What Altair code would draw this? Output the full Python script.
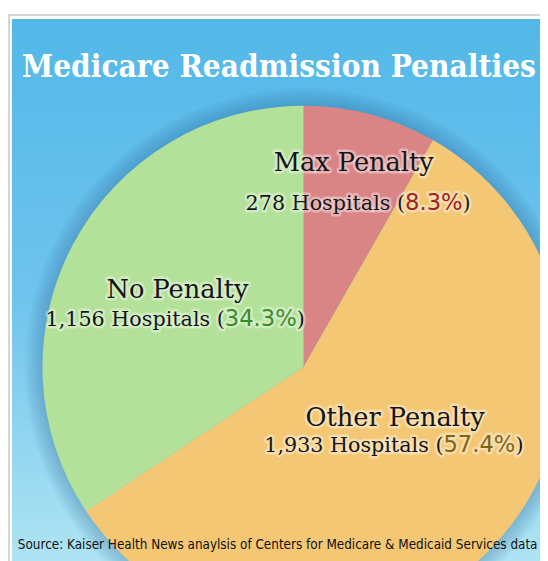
import altair as alt
import pandas as pd

# ---- data ----
categories = ["Max Penalty", "Other Penalty", "No Penalty"]
hospitals = [278, 1933, 1156]
percents = ["8.3%", "57.4%", "34.3%"]
slice_colors = ["#d98586", "#f4c774", "#b3e199"]
pct_colors = ["#9e2227", "#7f6316", "#3b8a2c"]
title_text = "Medicare Readmission Penalties"
source_text = "Source: Kaiser Health News anaylsis of Centers for Medicare & Medicaid Services data"

# ---- layout (pixels in chart space) ----
W, H = 540, 553
CX, CY, R = 300, 360, 265
# per slice: line1 centre x, line1 baseline, line2 pct start x, line2 baseline
line1_x = [351, 393, 172]
line1_y = [161, 420, 290]
pct_x = [403, 442, 220]
line2_y = [201, 447, 319]

SERIF = "DejaVu Serif"
SANS = "DejaVu Sans"

one = pd.DataFrame({"k": [0]})

bg = alt.Chart(one).mark_rect(
    fill=alt.LinearGradient(
        gradient="linear", x1=0, y1=0, x2=0, y2=1,
        stops=[alt.GradientStop(color="#52b8e8", offset=0),
               alt.GradientStop(color="#6fc4ed", offset=0.5),
               alt.GradientStop(color="#b2e6f3", offset=1)]),
).encode(x=alt.value(4), x2=alt.value(W + 20), y=alt.value(7), y2=alt.value(H + 20))

frame = alt.Chart(one).mark_rect(
    fillOpacity=0, stroke="#d6d6d6", strokeWidth=2
).encode(x=alt.value(1), x2=alt.value(W + 20), y=alt.value(3), y2=alt.value(H + 20))

layers = [bg, frame]

# soft shadow around the pie
for k in range(18, 0, -2):
    layers.append(
        alt.Chart(one).mark_arc(theta=0, theta2=6.2832, outerRadius=R + k,
                                color="#2a6aa3", opacity=0.04)
        .encode(x=alt.value(CX), y=alt.value(CY))
    )

df = pd.DataFrame({"category": categories, "hospitals": hospitals,
                   "idx": list(range(len(categories)))})
pie = alt.Chart(df).mark_arc(outerRadius=R).encode(
    theta=alt.Theta("hospitals:Q", stack=True),
    color=alt.Color("category:N", scale=alt.Scale(domain=categories, range=slice_colors), legend=None),
    order=alt.Order("idx:Q"),
    x=alt.value(CX), y=alt.value(CY),
)
layers.append(pie)


def txt(text, x, y, size, color="#151515", align="center", font=SERIF, glow=True, weight="normal"):
    out = []
    d = pd.DataFrame({"t": [text]})
    if glow:
        out.append(alt.Chart(d).mark_text(
            align=align, baseline="alphabetic", font=font, fontSize=size, fontWeight=weight,
            fill="#ffffff", stroke="#ffffff", strokeWidth=5, strokeOpacity=0.4, strokeJoin="round",
            fillOpacity=0.4,
        ).encode(text="t:N", x=alt.value(x), y=alt.value(y)))
    out.append(alt.Chart(d).mark_text(
        align=align, baseline="alphabetic", font=font, fontSize=size, fontWeight=weight, fill=color,
    ).encode(text="t:N", x=alt.value(x), y=alt.value(y)))
    return out


PCT_SIZE = 23
for i, cat in enumerate(categories):
    layers += txt(cat, line1_x[i], line1_y[i], 26)
    layers += txt(f"{hospitals[i]:,} Hospitals (", pct_x[i], line2_y[i], 21, align="right")
    layers += txt(percents[i], pct_x[i], line2_y[i], PCT_SIZE, color=pct_colors[i], align="left", font=SANS)
    pw = sum({".": 0.318, "%": 0.95}.get(c, 0.636) for c in percents[i]) * PCT_SIZE
    layers += txt(")", pct_x[i] + pw, line2_y[i], 21, align="left")

layers += txt(title_text, 275, 66, 31.8, color="#ffffff", font="DejaVu Serif Condensed",
              glow=False, weight="bold")
layers += txt(source_text, 10, 545, 13.6, color="#111111", align="left",
              font="DejaVu Sans Condensed", glow=False)

chart = alt.layer(*layers).properties(
    width=W, height=H, padding=0,
    autosize=alt.AutoSizeParams(type="none"),
    background="#ffffff",
).configure_view(stroke=None)

chart.save("out.html", embed_options={"renderer": "svg", "actions": False})
